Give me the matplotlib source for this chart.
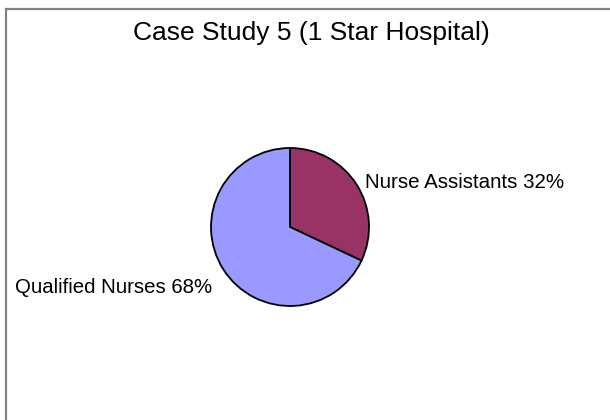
import matplotlib
matplotlib.use("Agg")
import matplotlib.pyplot as plt
from matplotlib.patches import Rectangle

# =========================
# DATA
# =========================
title = "Case Study 5 (1 Star Hospital)"
categories = ["Nurse Assistants", "Qualified Nurses"]
shares = [32, 68]
colors = ["#993366", "#9999FF"]

plt.rcParams["font.family"] = ["Liberation Sans", "DejaVu Sans"]

W, H = 610, 420
fig = plt.figure(figsize=(W / 100, H / 100), dpi=100)
fig.patch.set_facecolor("white")

# outer chart-area border (grey, open at right/bottom like the crop)
fig.patches.append(Rectangle((5.5 / W, -0.05), 1.2, 1 - 9 / H + 0.05,
                             transform=fig.transFigure, fill=False,
                             edgecolor="#808080", linewidth=1.6))

# pie axes: centre (290, 227) px, radius 79 px
cx, cy, r = 290, 227, 79
ax = fig.add_axes([(cx - r) / W, 1 - (cy + r) / H, 2 * r / W, 2 * r / H])
ax.pie(shares, colors=colors, startangle=90, counterclock=False, radius=1,
       wedgeprops=dict(edgecolor="black", linewidth=1.3))
ax.set_xlim(-1, 1)
ax.set_ylim(-1, 1)
ax.set_aspect("equal")
ax.axis("off")

# labels
ax.text(0.95, 0.494, f"{categories[0]} {shares[0]}%", ha="left",
        va="baseline", fontsize=14.8)
ax.text(-0.987, -0.835, f"{categories[1]} {shares[1]}%", ha="right",
        va="baseline", fontsize=14.7)

fig.text(311 / W, 1 - 40 / H, title, ha="center", va="baseline",
         fontsize=19)

fig.savefig("out.png", dpi=100)
